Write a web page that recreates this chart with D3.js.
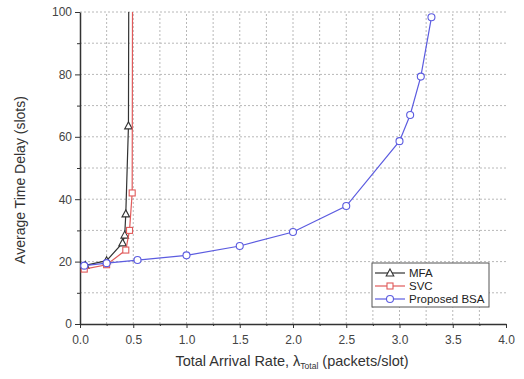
<!DOCTYPE html>
<html>
<head>
<meta charset="utf-8">
<script src="https://cdn.jsdelivr.net/npm/d3@7"></script>
<style>
  body { margin: 0; background: #fff; }
  text { font-family: "Liberation Sans", Arial, sans-serif; }
</style>
</head>
<body>
<script>
// chart size and margins
var W = 524;
var H = 379;
var margin = { left: 80, right: 18, top: 12, bottom: 55 };

// data
var mfaX = [0.05, 0.25, 0.40, 0.42, 0.43, 0.455, 0.46];
var mfaY = [18.8, 20.3, 26.0, 28.5, 35.3, 63.5, 140];
var svcX = [0.04, 0.25, 0.43, 0.465, 0.49, 0.495];
var svcY = [17.6, 19.0, 23.7, 30.0, 42.0, 140];
var bsaX = [0.04, 0.25, 0.54, 1.0, 1.5, 2.0, 2.5, 3.0, 3.1, 3.2, 3.3];
var bsaY = [18.7, 19.5, 20.5, 22.0, 25.0, 29.5, 37.8, 58.6, 67.0, 79.3, 98.3];
var seriesNames = ["MFA", "SVC", "Proposed BSA"];
var xTicks = [0, 0.5, 1.0, 1.5, 2.0, 2.5, 3.0, 3.5, 4.0];
var yTicks = [0, 20, 40, 60, 80, 100];

function main() {
  var svg = d3.select("body").append("svg")
    .attr("width", W)
    .attr("height", H);

  var x = d3.scaleLinear().domain([0, 4]).range([margin.left, W - margin.right]);
  var y = d3.scaleLinear().domain([0, 100]).range([H - margin.bottom, margin.top]);

  //dotted grid every 0.25 and every 10
  var g = svg.append("g");
  g.selectAll("line.vx")
    .data(d3.range(1, 16).map(function(i) { return i * 0.25; }))
    .enter().append("line")
    .attr("x1", function(d) { return x(d); })
    .attr("x2", function(d) { return x(d); })
    .attr("y1", y(0)).attr("y2", y(100))
    .attr("stroke", "#b8b8b8").attr("stroke-dasharray", "2,2");
  g.selectAll("line.hy")
    .data(d3.range(1, 11).map(function(i) { return i * 10; }))
    .enter().append("line")
    .attr("y1", function(d) { return y(d); })
    .attr("y2", function(d) { return y(d); })
    .attr("x1", x(0)).attr("x2", x(4))
    .attr("stroke", "#b8b8b8").attr("stroke-dasharray", "2,2");

  //axes
  var xAxis = svg.append("g")
    .attr("transform", "translate(0," + y(0) + ")")
    .call(d3.axisBottom(x).tickValues(xTicks).tickFormat(d3.format(".1f")).tickSizeInner(4).tickSizeOuter(0));
  svg.append("g")
    .attr("transform", "translate(0," + y(0) + ")")
    .call(d3.axisBottom(x).tickValues(d3.range(0, 8).map(function(i) { return 0.25 + i * 0.5; })).tickFormat("").tickSizeInner(2).tickSizeOuter(0))
    .select(".domain").remove();
  var yAxis = svg.append("g")
    .attr("transform", "translate(" + x(0) + ",0)")
    .call(d3.axisLeft(y).tickValues(yTicks).tickSizeInner(5).tickSizeOuter(0));
  svg.append("g")
    .attr("transform", "translate(" + x(0) + ",0)")
    .call(d3.axisLeft(y).tickValues([10, 30, 50, 70, 90]).tickFormat("").tickSizeInner(3).tickSizeOuter(0))
    .select(".domain").remove();

  svg.selectAll(".domain").attr("stroke", "#333").attr("stroke-width", 1.5);
  svg.selectAll(".tick line").attr("stroke", "#333");
  svg.selectAll(".tick text").attr("font-size", "12px").attr("fill", "#444")
    .attr("font-family", "Liberation Sans, Arial, sans-serif");
  xAxis.selectAll(".tick text").attr("dy", "1.1em");

  //axis titles
  svg.append("text")
    .attr("transform", "translate(25,180) rotate(-90)")
    .attr("text-anchor", "middle")
    .attr("font-size", "14px").attr("fill", "#333")
    .text("Average Time Delay (slots)");
  var xt = svg.append("text")
    .attr("x", 292)
    .attr("y", 366)
    .attr("text-anchor", "middle")
    .attr("font-size", "14.5px").attr("fill", "#333");
  xt.append("tspan").text("Total Arrival Rate, \u03bb");
  xt.append("tspan").attr("font-size", "8.5px").attr("dy", 3).text("Total");
  xt.append("tspan").attr("dy", -3).text(" (packets/slot)");

  //clip
  svg.append("clipPath").attr("id", "clip")
    .append("rect")
    .attr("x", x(0)).attr("y", y(100))
    .attr("width", x(4) - x(0)).attr("height", y(0) - y(100));

  var series = [
    { name: seriesNames[0], xs: mfaX, ys: mfaY, color: "#333333", shape: "tri" },
    { name: seriesNames[1], xs: svcX, ys: svcY, color: "#e05a5a", shape: "sq" },
    { name: seriesNames[2], xs: bsaX, ys: bsaY, color: "#5c5ce0", shape: "circ" }
  ];

  var line = d3.line()
    .x(function(d) { return x(d[0]); })
    .y(function(d) { return y(d[1]); });

  var plot = svg.append("g").attr("clip-path", "url(#clip)");

  series.forEach(function(s) {
    var pts = s.xs.map(function(v, i) { return [v, s.ys[i]]; });
    plot.append("path")
      .datum(pts)
      .attr("d", line)
      .attr("fill", "none")
      .attr("stroke", s.color)
      .attr("stroke-width", 1.2);
    var visible = pts.filter(function(d) { return d[1] <= 100; });
    drawMarkers(plot, visible.map(function(d) { return [x(d[0]), y(d[1])]; }), s);
  });

  //legend
  var lg = svg.append("g");
  lg.append("rect")
    .attr("x", 372).attr("y", 263)
    .attr("width", 117).attr("height", 44)
    .attr("fill", "#fff").attr("stroke", "#555").attr("stroke-width", 1);
  series.forEach(function(s, i) {
    var ly = 273 + i * 13;
    lg.append("line")
      .attr("x1", 375).attr("x2", 405)
      .attr("y1", ly).attr("y2", ly)
      .attr("stroke", s.color).attr("stroke-width", 1.2);
    drawMarkers(lg, [[390, ly]], s);
    lg.append("text")
      .attr("x", 409).attr("y", ly + 4)
      .attr("font-size", "11.5px").attr("fill", "#222")
      .text(s.name);
  });
}

function drawMarkers(parent, pts, s) {
  //white filled marker for each point
  pts.forEach(function(p) {
    if (s.shape == "circ") {
      parent.append("circle")
        .attr("cx", p[0]).attr("cy", p[1]).attr("r", 3.5)
        .attr("fill", "#fff").attr("stroke", s.color).attr("stroke-width", 1.1);
    } else if (s.shape == "sq") {
      parent.append("rect")
        .attr("x", p[0] - 3).attr("y", p[1] - 3)
        .attr("width", 6).attr("height", 6)
        .attr("fill", "#fff").attr("stroke", s.color).attr("stroke-width", 1.1);
    } else {
      parent.append("path")
        .attr("d", "M" + p[0] + "," + (p[1] - 4) + "L" + (p[0] + 3.8) + "," + (p[1] + 3) + "L" + (p[0] - 3.8) + "," + (p[1] + 3) + "Z")
        .attr("fill", "#fff").attr("stroke", s.color).attr("stroke-width", 1.1);
    }
  });
}

main();
</script>
</body>
</html>
